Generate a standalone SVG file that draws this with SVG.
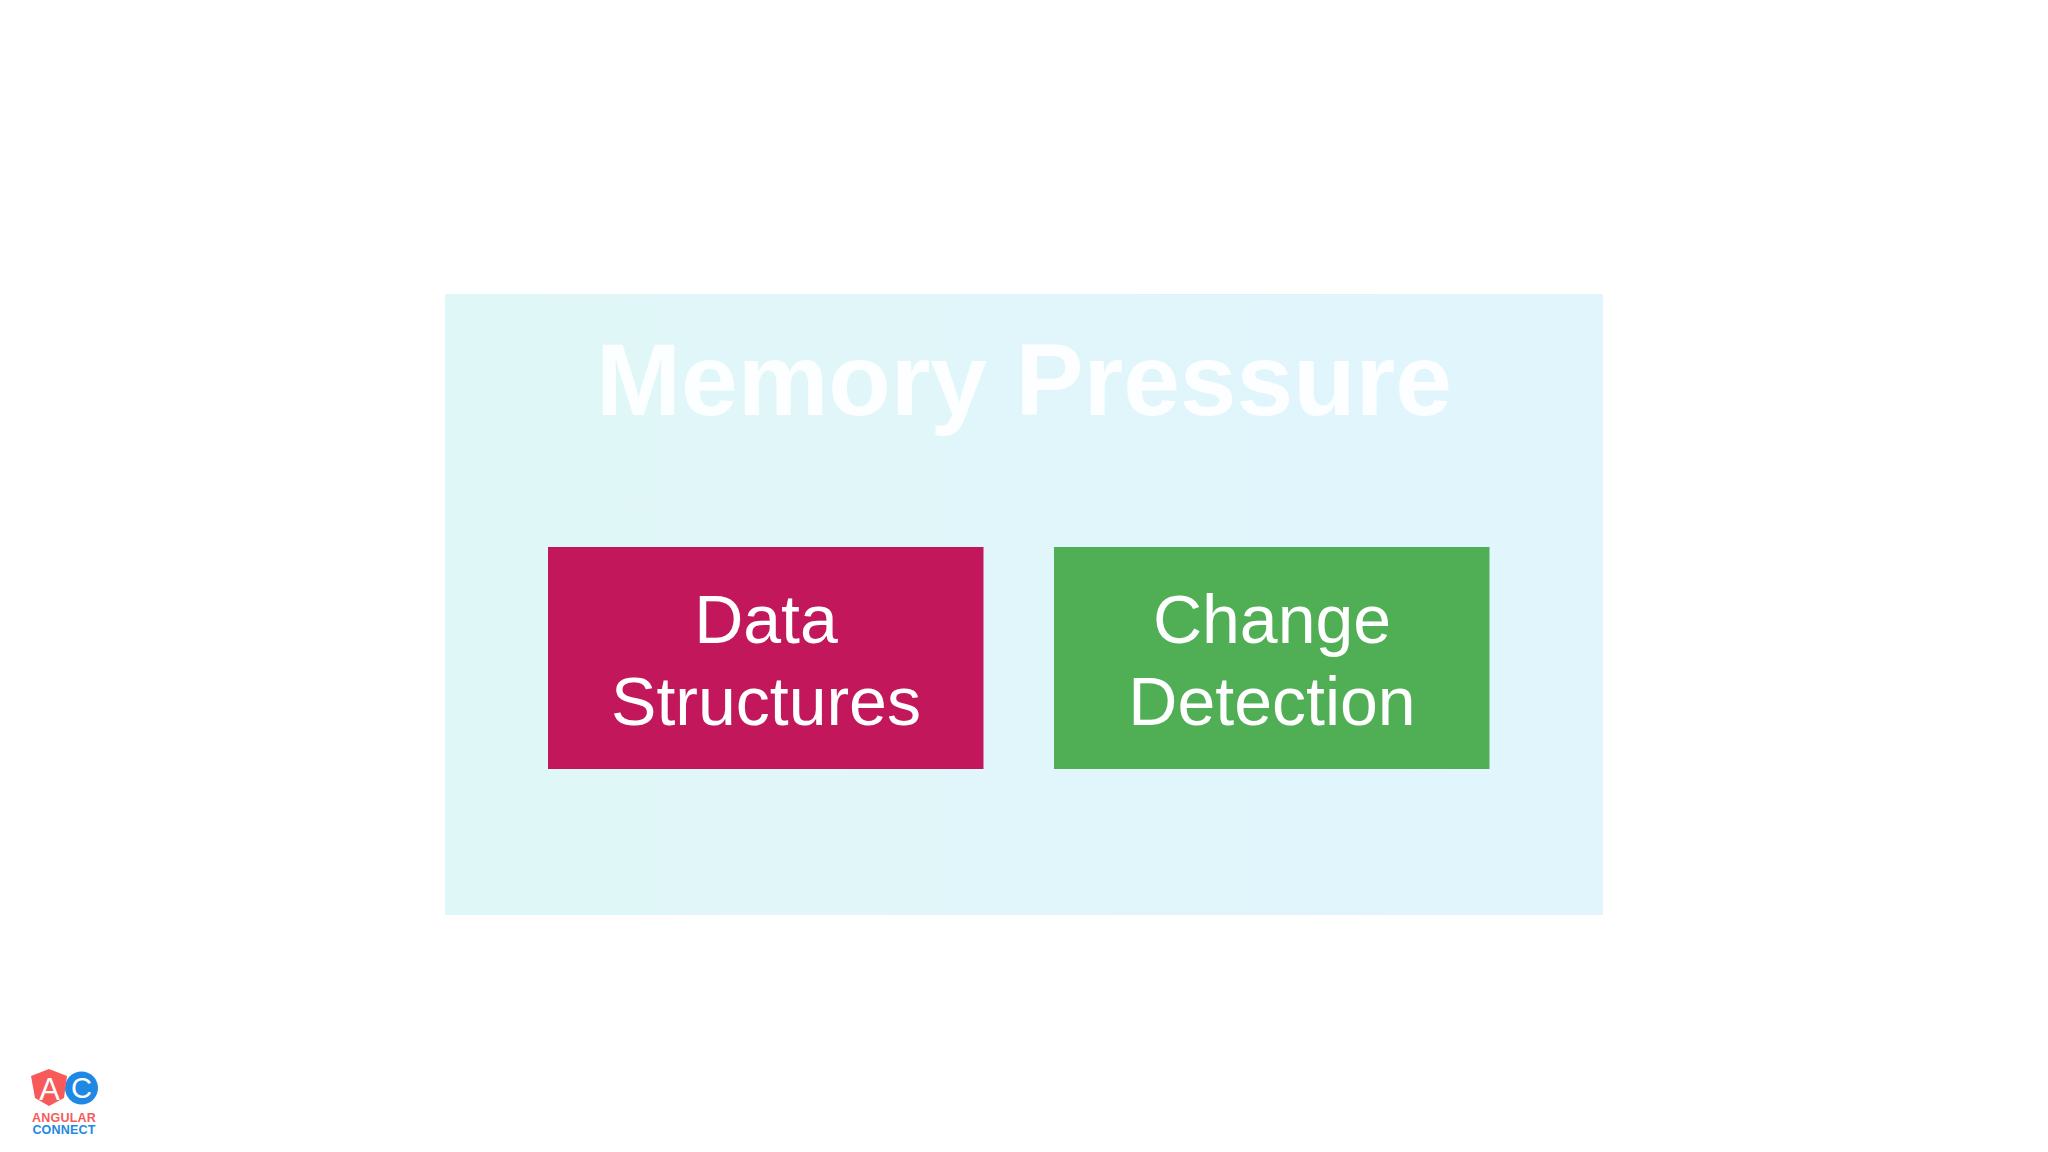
<svg xmlns="http://www.w3.org/2000/svg" width="2048" height="1152" viewBox="0 0 2048 1152">
<style>
text{font-family:"Liberation Sans",Arial,sans-serif;text-anchor:middle}
.label{font-size:68px;fill:#fff}
.title{font-size:102px;font-weight:700;fill:#fff;fill-opacity:.9}
.logo{font-size:12.5px;font-weight:700;letter-spacing:.2px}
</style>
<defs>
<linearGradient id="panel" x1="0" y1="0" x2="1" y2="0"><stop offset="0" stop-color="#e0f7f7"/><stop offset="1" stop-color="#e1f5fd"/></linearGradient>
</defs>
<rect width="2048" height="1152" fill="#fff"/>
<g id="memory-pressure">
<rect x="445" y="294" width="1158" height="621" fill="url(#panel)"/>
<text class="title" x="1024" y="414.500">Memory Pressure</text>
</g>
<g id="data-structures">
<rect x="548" y="547" width="435.500" height="222" fill="#c2185b"/>
<text class="label" x="766" y="643">Data</text>
<text class="label" x="766" y="725">Structures</text>
</g>
<g id="change-detection">
<rect x="1054" y="547" width="435.500" height="222" fill="#50af55"/>
<text class="label" x="1272" y="643">Change</text>
<text class="label" x="1272" y="725">Detection</text>
</g>
<g id="logo">
<circle cx="81.500" cy="1088" r="16.500" fill="#1e88e5"/>
<path d="M49 1069L67 1076L64 1098L49 1106L35 1098L31 1076Z" fill="#f85a5a"/>
<text x="49.500" y="1100" font-size="31" fill="#fff">A</text>
<text x="81.500" y="1098" font-size="29" fill="#fff">C</text>
<text class="logo" x="64" y="1122" fill="#f85a5a">ANGULAR</text>
<text class="logo" x="64" y="1134" fill="#1e88e5">CONNECT</text>
</g>
</svg>
